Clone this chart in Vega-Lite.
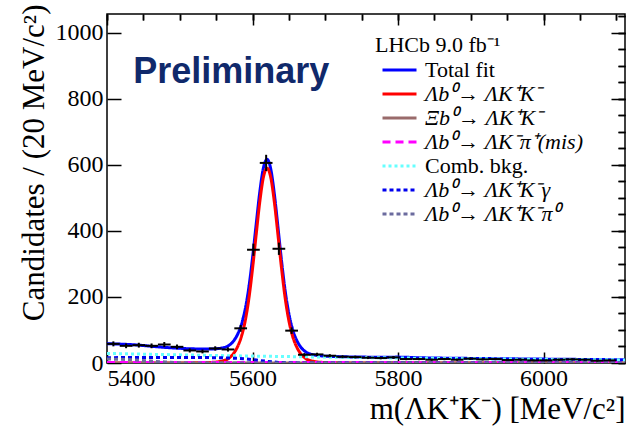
{
  "$schema": "https://vega.github.io/schema/vega-lite/v6.json",
  "width": 518,
  "height": 349,
  "autosize": {"type": "none"},
  "padding": {"left": 107, "top": 14, "right": 3, "bottom": 68},
  "background": "white",
  "config": {
    "view": {"stroke": "black", "strokeWidth": 1.5},
    "axis": {
      "domain": false,
      "grid": false,
      "tickColor": "black",
      "tickWidth": 1.5,
      "labelFont": "Liberation Serif",
      "labelFontSize": 24,
      "labelColor": "black",
      "titleFont": "Liberation Serif",
      "titleFontSize": 31,
      "titleFontWeight": "normal",
      "titleColor": "black"
    }
  },
  "datasets": {
    "points": [
      {"m": 5408.75, "n": 58, "lo": 5400, "hi": 5417.5, "elo": 50.4, "ehi": 65.6},
      {"m": 5426.25, "n": 52, "lo": 5417.5, "hi": 5435, "elo": 44.8, "ehi": 59.2},
      {"m": 5443.75, "n": 54, "lo": 5435, "hi": 5452.5, "elo": 46.7, "ehi": 61.3},
      {"m": 5461.25, "n": 52, "lo": 5452.5, "hi": 5470, "elo": 44.8, "ehi": 59.2},
      {"m": 5478.75, "n": 56, "lo": 5470, "hi": 5487.5, "elo": 48.5, "ehi": 63.5},
      {"m": 5496.25, "n": 49, "lo": 5487.5, "hi": 5505, "elo": 42, "ehi": 56},
      {"m": 5513.75, "n": 38, "lo": 5505, "hi": 5522.5, "elo": 31.8, "ehi": 44.2},
      {"m": 5531.25, "n": 35, "lo": 5522.5, "hi": 5540, "elo": 29.1, "ehi": 40.9},
      {"m": 5548.75, "n": 44, "lo": 5540, "hi": 5557.5, "elo": 37.4, "ehi": 50.6},
      {"m": 5566.25, "n": 41, "lo": 5557.5, "hi": 5575, "elo": 34.6, "ehi": 47.4},
      {"m": 5583.75, "n": 105, "lo": 5575, "hi": 5592.5, "elo": 94.8, "ehi": 115.2},
      {"m": 5601.25, "n": 343, "lo": 5592.5, "hi": 5610, "elo": 324.5, "ehi": 361.5},
      {"m": 5618.75, "n": 606, "lo": 5610, "hi": 5627.5, "elo": 581.4, "ehi": 630.6},
      {"m": 5636.25, "n": 346, "lo": 5627.5, "hi": 5645, "elo": 327.4, "ehi": 364.6},
      {"m": 5653.75, "n": 98, "lo": 5645, "hi": 5662.5, "elo": 88.1, "ehi": 107.9},
      {"m": 5671.25, "n": 25, "lo": 5662.5, "hi": 5680, "elo": 20, "ehi": 30},
      {"m": 5688.75, "n": 26, "lo": 5680, "hi": 5697.5, "elo": 20.9, "ehi": 31.1},
      {"m": 5706.25, "n": 22, "lo": 5697.5, "hi": 5715, "elo": 17.3, "ehi": 26.7},
      {"m": 5723.75, "n": 19, "lo": 5715, "hi": 5732.5, "elo": 14.6, "ehi": 23.4},
      {"m": 5741.25, "n": 18, "lo": 5732.5, "hi": 5750, "elo": 13.8, "ehi": 22.2},
      {"m": 5758.75, "n": 16, "lo": 5750, "hi": 5767.5, "elo": 12, "ehi": 20},
      {"m": 5776.25, "n": 15, "lo": 5767.5, "hi": 5785, "elo": 11.1, "ehi": 18.9},
      {"m": 5793.75, "n": 17, "lo": 5785, "hi": 5802.5, "elo": 12.9, "ehi": 21.1},
      {"m": 5811.25, "n": 12, "lo": 5802.5, "hi": 5820, "elo": 8.5, "ehi": 15.5},
      {"m": 5828.75, "n": 12, "lo": 5820, "hi": 5837.5, "elo": 8.5, "ehi": 15.5},
      {"m": 5846.25, "n": 10, "lo": 5837.5, "hi": 5855, "elo": 6.8, "ehi": 13.2},
      {"m": 5863.75, "n": 12, "lo": 5855, "hi": 5872.5, "elo": 8.5, "ehi": 15.5},
      {"m": 5881.25, "n": 10, "lo": 5872.5, "hi": 5890, "elo": 6.8, "ehi": 13.2},
      {"m": 5898.75, "n": 13, "lo": 5890, "hi": 5907.5, "elo": 9.4, "ehi": 16.6},
      {"m": 5916.25, "n": 11, "lo": 5907.5, "hi": 5925, "elo": 7.7, "ehi": 14.3},
      {"m": 5933.75, "n": 12, "lo": 5925, "hi": 5942.5, "elo": 8.5, "ehi": 15.5},
      {"m": 5951.25, "n": 9, "lo": 5942.5, "hi": 5960, "elo": 6, "ehi": 12},
      {"m": 5968.75, "n": 10, "lo": 5960, "hi": 5977.5, "elo": 6.8, "ehi": 13.2},
      {"m": 5986.25, "n": 8, "lo": 5977.5, "hi": 5995, "elo": 5.2, "ehi": 10.8},
      {"m": 6003.75, "n": 8, "lo": 5995, "hi": 6012.5, "elo": 5.2, "ehi": 10.8},
      {"m": 6021.25, "n": 10, "lo": 6012.5, "hi": 6030, "elo": 6.8, "ehi": 13.2},
      {"m": 6038.75, "n": 11, "lo": 6030, "hi": 6047.5, "elo": 7.7, "ehi": 14.3},
      {"m": 6056.25, "n": 10, "lo": 6047.5, "hi": 6065, "elo": 6.8, "ehi": 13.2},
      {"m": 6073.75, "n": 7, "lo": 6065, "hi": 6082.5, "elo": 4.4, "ehi": 9.6},
      {"m": 6091.25, "n": 8, "lo": 6082.5, "hi": 6100, "elo": 5.2, "ehi": 10.8}
    ],
    "curves": [
      {"comp": "Total fit", "m": 5400, "n": 58.5},
      {"comp": "Total fit", "m": 5420, "n": 57.1},
      {"comp": "Total fit", "m": 5440, "n": 54.8},
      {"comp": "Total fit", "m": 5460, "n": 50.9},
      {"comp": "Total fit", "m": 5480, "n": 47.2},
      {"comp": "Total fit", "m": 5500, "n": 44.5},
      {"comp": "Total fit", "m": 5520, "n": 42.8},
      {"comp": "Total fit", "m": 5540, "n": 42.4},
      {"comp": "Total fit", "m": 5550, "n": 43.2},
      {"comp": "Total fit", "m": 5560, "n": 46.4},
      {"comp": "Total fit", "m": 5565, "n": 49.9},
      {"comp": "Total fit", "m": 5570, "n": 57.3},
      {"comp": "Total fit", "m": 5575, "n": 69.7},
      {"comp": "Total fit", "m": 5580, "n": 89.2},
      {"comp": "Total fit", "m": 5585, "n": 118.3},
      {"comp": "Total fit", "m": 5590, "n": 163.3},
      {"comp": "Total fit", "m": 5595, "n": 229.2},
      {"comp": "Total fit", "m": 5600, "n": 317.8},
      {"comp": "Total fit", "m": 5605, "n": 419.3},
      {"comp": "Total fit", "m": 5610, "n": 517.7},
      {"comp": "Total fit", "m": 5615, "n": 591.2},
      {"comp": "Total fit", "m": 5620, "n": 616.8},
      {"comp": "Total fit", "m": 5625, "n": 588.5},
      {"comp": "Total fit", "m": 5630, "n": 512.3},
      {"comp": "Total fit", "m": 5635, "n": 411.4},
      {"comp": "Total fit", "m": 5640, "n": 307.5},
      {"comp": "Total fit", "m": 5645, "n": 216.8},
      {"comp": "Total fit", "m": 5650, "n": 149.3},
      {"comp": "Total fit", "m": 5655, "n": 102.9},
      {"comp": "Total fit", "m": 5660, "n": 72.6},
      {"comp": "Total fit", "m": 5665, "n": 52.4},
      {"comp": "Total fit", "m": 5670, "n": 39.3},
      {"comp": "Total fit", "m": 5675, "n": 31.1},
      {"comp": "Total fit", "m": 5680, "n": 27.0},
      {"comp": "Total fit", "m": 5690, "n": 22.6},
      {"comp": "Total fit", "m": 5700, "n": 20.7},
      {"comp": "Total fit", "m": 5720, "n": 19.2},
      {"comp": "Total fit", "m": 5750, "n": 17.9},
      {"comp": "Total fit", "m": 5770, "n": 17.7},
      {"comp": "Total fit", "m": 5800, "n": 17.8},
      {"comp": "Total fit", "m": 5830, "n": 15.9},
      {"comp": "Total fit", "m": 5850, "n": 15.1},
      {"comp": "Total fit", "m": 5900, "n": 13.9},
      {"comp": "Total fit", "m": 5950, "n": 12.8},
      {"comp": "Total fit", "m": 6000, "n": 11.8},
      {"comp": "Total fit", "m": 6050, "n": 10.9},
      {"comp": "Total fit", "m": 6112, "n": 9.8},

      {"comp": "Λb⁰→ ΛK⁺K⁻", "m": 5400, "n": 0},
      {"comp": "Λb⁰→ ΛK⁺K⁻", "m": 5440, "n": 0.05},
      {"comp": "Λb⁰→ ΛK⁺K⁻", "m": 5490, "n": 0.2},
      {"comp": "Λb⁰→ ΛK⁺K⁻", "m": 5520, "n": 0.6},
      {"comp": "Λb⁰→ ΛK⁺K⁻", "m": 5540, "n": 1.5},
      {"comp": "Λb⁰→ ΛK⁺K⁻", "m": 5550, "n": 3},
      {"comp": "Λb⁰→ ΛK⁺K⁻", "m": 5560, "n": 7},
      {"comp": "Λb⁰→ ΛK⁺K⁻", "m": 5565, "n": 11},
      {"comp": "Λb⁰→ ΛK⁺K⁻", "m": 5570, "n": 19},
      {"comp": "Λb⁰→ ΛK⁺K⁻", "m": 5575, "n": 32},
      {"comp": "Λb⁰→ ΛK⁺K⁻", "m": 5580, "n": 52},
      {"comp": "Λb⁰→ ΛK⁺K⁻", "m": 5585, "n": 82},
      {"comp": "Λb⁰→ ΛK⁺K⁻", "m": 5590, "n": 128},
      {"comp": "Λb⁰→ ΛK⁺K⁻", "m": 5595, "n": 195},
      {"comp": "Λb⁰→ ΛK⁺K⁻", "m": 5600, "n": 285},
      {"comp": "Λb⁰→ ΛK⁺K⁻", "m": 5605, "n": 388},
      {"comp": "Λb⁰→ ΛK⁺K⁻", "m": 5610, "n": 488},
      {"comp": "Λb⁰→ ΛK⁺K⁻", "m": 5615, "n": 563},
      {"comp": "Λb⁰→ ΛK⁺K⁻", "m": 5620, "n": 590},
      {"comp": "Λb⁰→ ΛK⁺K⁻", "m": 5625, "n": 563},
      {"comp": "Λb⁰→ ΛK⁺K⁻", "m": 5630, "n": 488},
      {"comp": "Λb⁰→ ΛK⁺K⁻", "m": 5635, "n": 388},
      {"comp": "Λb⁰→ ΛK⁺K⁻", "m": 5640, "n": 285},
      {"comp": "Λb⁰→ ΛK⁺K⁻", "m": 5645, "n": 195},
      {"comp": "Λb⁰→ ΛK⁺K⁻", "m": 5650, "n": 128},
      {"comp": "Λb⁰→ ΛK⁺K⁻", "m": 5655, "n": 82},
      {"comp": "Λb⁰→ ΛK⁺K⁻", "m": 5660, "n": 52},
      {"comp": "Λb⁰→ ΛK⁺K⁻", "m": 5665, "n": 32},
      {"comp": "Λb⁰→ ΛK⁺K⁻", "m": 5670, "n": 19},
      {"comp": "Λb⁰→ ΛK⁺K⁻", "m": 5675, "n": 11},
      {"comp": "Λb⁰→ ΛK⁺K⁻", "m": 5680, "n": 7},
      {"comp": "Λb⁰→ ΛK⁺K⁻", "m": 5690, "n": 3},
      {"comp": "Λb⁰→ ΛK⁺K⁻", "m": 5700, "n": 1.5},
      {"comp": "Λb⁰→ ΛK⁺K⁻", "m": 5720, "n": 0.6},
      {"comp": "Λb⁰→ ΛK⁺K⁻", "m": 5750, "n": 0.2},
      {"comp": "Λb⁰→ ΛK⁺K⁻", "m": 5800, "n": 0.05},
      {"comp": "Λb⁰→ ΛK⁺K⁻", "m": 6112, "n": 0},

      {"comp": "Ξb⁰→ ΛK⁺K⁻", "m": 5400, "n": 0},
      {"comp": "Ξb⁰→ ΛK⁺K⁻", "m": 5750, "n": 0},
      {"comp": "Ξb⁰→ ΛK⁺K⁻", "m": 5770, "n": 0.5},
      {"comp": "Ξb⁰→ ΛK⁺K⁻", "m": 5785, "n": 1.2},
      {"comp": "Ξb⁰→ ΛK⁺K⁻", "m": 5797, "n": 1.5},
      {"comp": "Ξb⁰→ ΛK⁺K⁻", "m": 5810, "n": 1.2},
      {"comp": "Ξb⁰→ ΛK⁺K⁻", "m": 5825, "n": 0.5},
      {"comp": "Ξb⁰→ ΛK⁺K⁻", "m": 5845, "n": 0},
      {"comp": "Ξb⁰→ ΛK⁺K⁻", "m": 6112, "n": 0},

      {"comp": "Λb⁰→ ΛK⁻π⁺(mis)", "m": 5400, "n": 1.5},
      {"comp": "Λb⁰→ ΛK⁻π⁺(mis)", "m": 5600, "n": 1.5},
      {"comp": "Λb⁰→ ΛK⁻π⁺(mis)", "m": 5700, "n": 1.3},
      {"comp": "Λb⁰→ ΛK⁻π⁺(mis)", "m": 5800, "n": 1.1},
      {"comp": "Λb⁰→ ΛK⁻π⁺(mis)", "m": 5900, "n": 0.9},
      {"comp": "Λb⁰→ ΛK⁻π⁺(mis)", "m": 6000, "n": 0.7},
      {"comp": "Λb⁰→ ΛK⁻π⁺(mis)", "m": 6112, "n": 0.5},

      {"comp": "Comb. bkg.", "m": 5400, "n": 29},
      {"comp": "Comb. bkg.", "m": 5450, "n": 26.8},
      {"comp": "Comb. bkg.", "m": 5500, "n": 24.7},
      {"comp": "Comb. bkg.", "m": 5550, "n": 22.7},
      {"comp": "Comb. bkg.", "m": 5600, "n": 21.0},
      {"comp": "Comb. bkg.", "m": 5650, "n": 19.4},
      {"comp": "Comb. bkg.", "m": 5700, "n": 17.9},
      {"comp": "Comb. bkg.", "m": 5750, "n": 16.5},
      {"comp": "Comb. bkg.", "m": 5800, "n": 15.2},
      {"comp": "Comb. bkg.", "m": 5850, "n": 14.1},
      {"comp": "Comb. bkg.", "m": 5900, "n": 13.0},
      {"comp": "Comb. bkg.", "m": 5950, "n": 12.0},
      {"comp": "Comb. bkg.", "m": 6000, "n": 11.1},
      {"comp": "Comb. bkg.", "m": 6050, "n": 10.3},
      {"comp": "Comb. bkg.", "m": 6112, "n": 9.3},

      {"comp": "Λb⁰→ ΛK⁺K⁻γ", "m": 5400, "n": 16},
      {"comp": "Λb⁰→ ΛK⁺K⁻γ", "m": 5420, "n": 16.5},
      {"comp": "Λb⁰→ ΛK⁺K⁻γ", "m": 5440, "n": 17},
      {"comp": "Λb⁰→ ΛK⁺K⁻γ", "m": 5500, "n": 17},
      {"comp": "Λb⁰→ ΛK⁺K⁻γ", "m": 5520, "n": 16.8},
      {"comp": "Λb⁰→ ΛK⁺K⁻γ", "m": 5540, "n": 16.3},
      {"comp": "Λb⁰→ ΛK⁺K⁻γ", "m": 5560, "n": 15.5},
      {"comp": "Λb⁰→ ΛK⁺K⁻γ", "m": 5580, "n": 14},
      {"comp": "Λb⁰→ ΛK⁺K⁻γ", "m": 5590, "n": 12.5},
      {"comp": "Λb⁰→ ΛK⁺K⁻γ", "m": 5600, "n": 10.3},
      {"comp": "Λb⁰→ ΛK⁺K⁻γ", "m": 5610, "n": 7.5},
      {"comp": "Λb⁰→ ΛK⁺K⁻γ", "m": 5620, "n": 5},
      {"comp": "Λb⁰→ ΛK⁺K⁻γ", "m": 5630, "n": 2.8},
      {"comp": "Λb⁰→ ΛK⁺K⁻γ", "m": 5640, "n": 1.3},
      {"comp": "Λb⁰→ ΛK⁺K⁻γ", "m": 5650, "n": 0.4},
      {"comp": "Λb⁰→ ΛK⁺K⁻γ", "m": 5660, "n": 0},
      {"comp": "Λb⁰→ ΛK⁺K⁻γ", "m": 6112, "n": 0},

      {"comp": "Λb⁰→ ΛK⁺K⁻π⁰", "m": 5400, "n": 12},
      {"comp": "Λb⁰→ ΛK⁺K⁻π⁰", "m": 5420, "n": 11},
      {"comp": "Λb⁰→ ΛK⁺K⁻π⁰", "m": 5440, "n": 9},
      {"comp": "Λb⁰→ ΛK⁺K⁻π⁰", "m": 5460, "n": 6},
      {"comp": "Λb⁰→ ΛK⁺K⁻π⁰", "m": 5480, "n": 3},
      {"comp": "Λb⁰→ ΛK⁺K⁻π⁰", "m": 5500, "n": 1},
      {"comp": "Λb⁰→ ΛK⁺K⁻π⁰", "m": 5520, "n": 0},
      {"comp": "Λb⁰→ ΛK⁺K⁻π⁰", "m": 6112, "n": 0}
    ],
    "note": [{"m": 5436, "n": 848, "label": "Preliminary"}]
  },
  "resolve": {"axis": {"x": "independent", "y": "independent"}},
  "layer": [
    {
      "data": {"name": "curves"},
      "mark": {"type": "line", "strokeWidth": 3, "clip": true, "interpolate": "monotone"},
      "encoding": {
        "x": {
          "field": "m", "type": "quantitative",
          "scale": {"domain": [5400, 6112], "nice": false, "zero": false},
          "axis": {"values": [5400, 5600, 5800, 6000], "format": "d", "tickSize": -11, "labelPadding": 14,
                   "title": "m(ΛK⁺K⁻) [MeV/c²]", "titleAnchor": "end", "titlePadding": 4}
        },
        "y": {
          "field": "n", "type": "quantitative",
          "scale": {"domain": [0, 1057], "nice": false},
          "axis": {"values": [0, 200, 400, 600, 800, 1000], "format": "d", "tickSize": -14, "labelPadding": 18,
                   "title": "Candidates / (20 MeV/c²)", "titleAnchor": "end", "titlePadding": 5, "titleY": -10}
        },
        "color": {
          "field": "comp", "type": "nominal",
          "scale": {
            "domain": ["Total fit", "Λb⁰→ ΛK⁺K⁻", "Ξb⁰→ ΛK⁺K⁻", "Λb⁰→ ΛK⁻π⁺(mis)", "Comb. bkg.", "Λb⁰→ ΛK⁺K⁻γ", "Λb⁰→ ΛK⁺K⁻π⁰"],
            "range": ["#0000ff", "#ff0000", "#996b6b", "#ff00ff", "#66ffff", "#0000ee", "#6b6b9e"]
          },
          "legend": {
            "orient": "none", "legendX": 268, "legendY": 21,
            "title": "LHCb 9.0 fb⁻¹", "titleFont": "Liberation Serif", "titleFontSize": 22,
            "titleFontWeight": "normal", "titleColor": "black", "titlePadding": 1,
            "labelFont": "Liberation Serif", "labelFontSize": 22, "labelColor": "black",
            "labelLimit": 300, "labelOffset": 7, "symbolOffset": 6,
            "symbolType": "stroke", "symbolSize": 1156, "symbolStrokeWidth": 3,
            "clipHeight": 24, "rowPadding": 0, "padding": 0,
            "encode": {"labels": {"update": {"fontStyle": {"signal": "datum.label === 'Total fit' || datum.label === 'Comb. bkg.' ? 'normal' : 'italic'"}}}}
          }
        },
        "strokeDash": {
          "field": "comp", "type": "nominal",
          "scale": {
            "domain": ["Total fit", "Λb⁰→ ΛK⁺K⁻", "Ξb⁰→ ΛK⁺K⁻", "Λb⁰→ ΛK⁻π⁺(mis)", "Comb. bkg.", "Λb⁰→ ΛK⁺K⁻γ", "Λb⁰→ ΛK⁺K⁻π⁰"],
            "range": [[1, 0], [1, 0], [1, 0], [8, 5], [3, 3], [4, 3], [4, 3]]
          },
          "legend": {
            "orient": "none", "legendX": 268, "legendY": 21,
            "title": "LHCb 9.0 fb⁻¹", "titleFont": "Liberation Serif", "titleFontSize": 22,
            "titleFontWeight": "normal", "titleColor": "black", "titlePadding": 1,
            "labelFont": "Liberation Serif", "labelFontSize": 22, "labelColor": "black",
            "labelLimit": 300, "labelOffset": 7, "symbolOffset": 6,
            "symbolType": "stroke", "symbolSize": 1156, "symbolStrokeWidth": 3,
            "clipHeight": 24, "rowPadding": 0, "padding": 0,
            "encode": {"labels": {"update": {"fontStyle": {"signal": "datum.label === 'Total fit' || datum.label === 'Comb. bkg.' ? 'normal' : 'italic'"}}}}
          }
        },
        "detail": {"field": "comp"}
      }
    },
    {
      "data": {"name": "points"},
      "mark": {"type": "rule", "color": "black", "strokeWidth": 2},
      "encoding": {
        "x": {"field": "m", "type": "quantitative",
              "axis": {"values": [5400, 5450, 5500, 5550, 5600, 5650, 5700, 5750, 5800, 5850, 5900, 5950, 6000, 6050, 6100],
                       "tickSize": -6, "labels": false, "title": null}},
        "y": {"field": "elo", "type": "quantitative",
              "axis": {"values": [0, 50, 100, 150, 200, 250, 300, 350, 400, 450, 500, 550, 600, 650, 700, 750, 800, 850, 900, 950, 1000, 1050],
                       "tickSize": -7, "labels": false, "title": null}},
        "y2": {"field": "ehi"}
      }
    },
    {
      "data": {"name": "points"},
      "mark": {"type": "rule", "color": "black", "strokeWidth": 2},
      "encoding": {
        "x": {"field": "lo", "type": "quantitative",
              "axis": {"orient": "top", "values": [5400, 5600, 5800, 6000], "tickSize": -11, "labels": false, "title": null}},
        "x2": {"field": "hi"},
        "y": {"field": "n", "type": "quantitative",
              "axis": {"orient": "right", "values": [0, 200, 400, 600, 800, 1000], "tickSize": -14, "labels": false, "title": null}}
      }
    },
    {
      "data": {"name": "note"},
      "mark": {"type": "text", "font": "Liberation Sans", "fontWeight": "bold", "fontSize": 36, "color": "#10296b", "align": "left", "baseline": "alphabetic"},
      "encoding": {
        "x": {"field": "m", "type": "quantitative",
              "axis": {"orient": "top", "values": [5400, 5450, 5500, 5550, 5600, 5650, 5700, 5750, 5800, 5850, 5900, 5950, 6000, 6050, 6100],
                       "tickSize": -6, "labels": false, "title": null}},
        "y": {"field": "n", "type": "quantitative",
              "axis": {"orient": "right", "values": [0, 50, 100, 150, 200, 250, 300, 350, 400, 450, 500, 550, 600, 650, 700, 750, 800, 850, 900, 950, 1000, 1050],
                       "tickSize": -7, "labels": false, "title": null}},
        "text": {"field": "label"}
      }
    }
  ]
}
